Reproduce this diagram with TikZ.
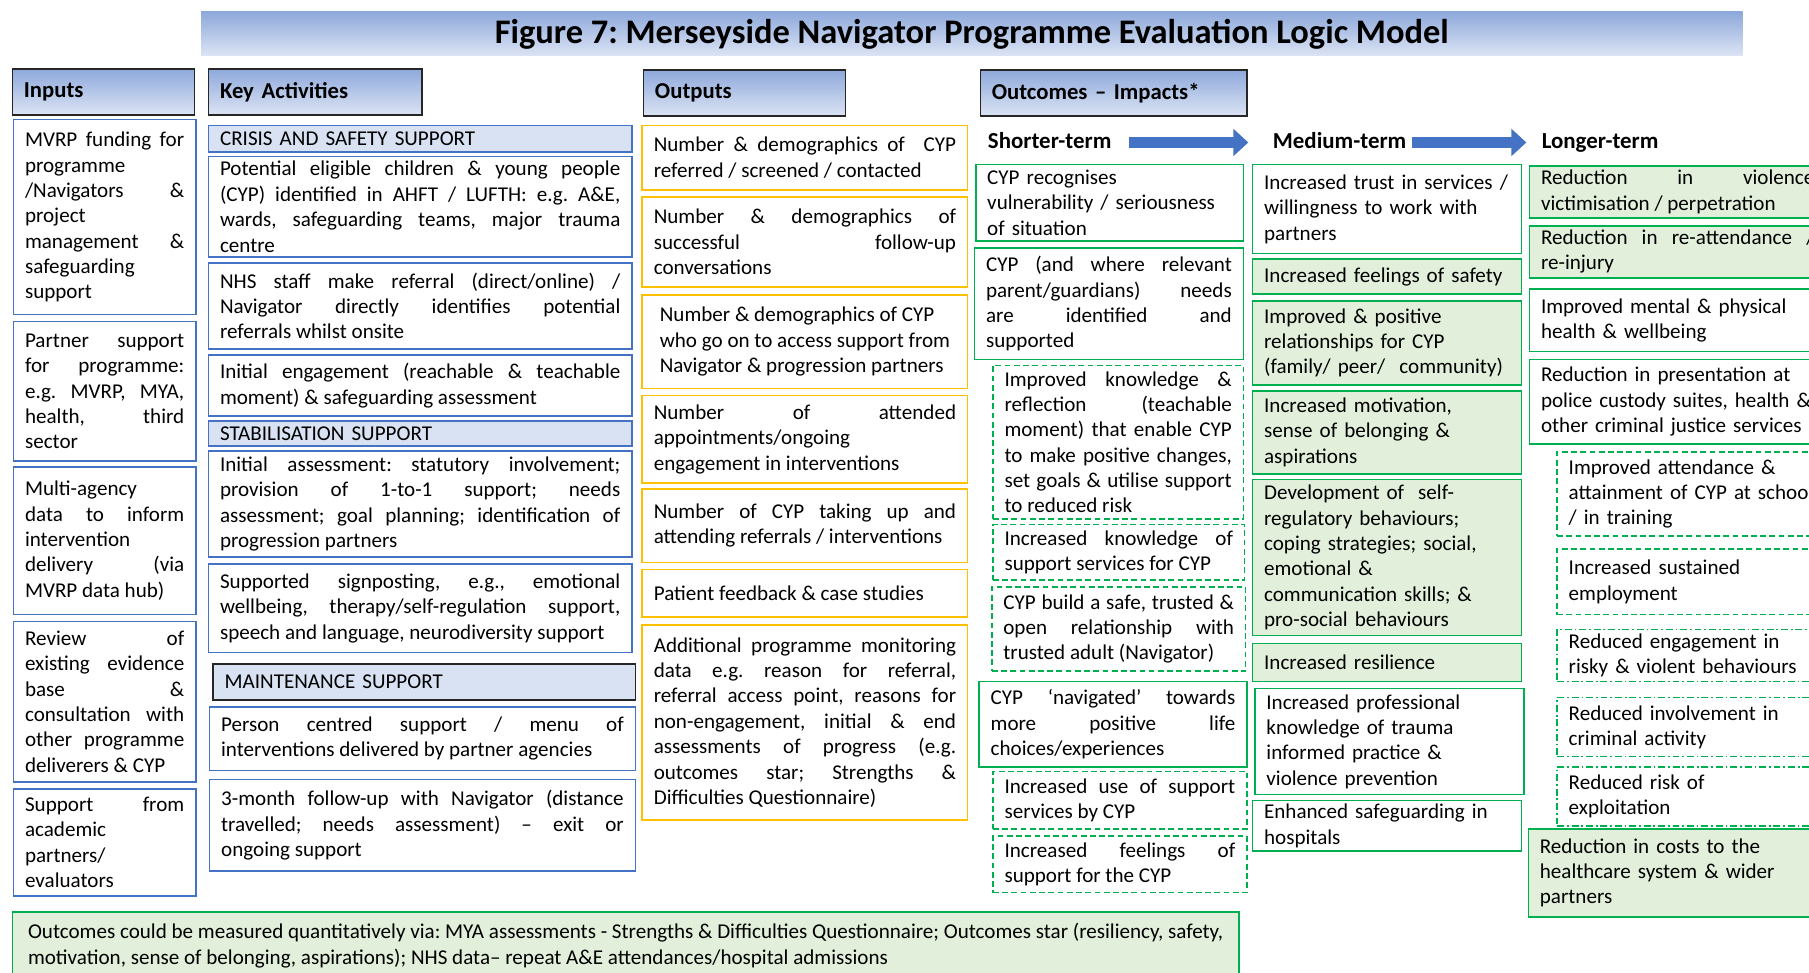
\documentclass[tikz,border=0pt]{standalone}
\usepackage{fontspec}
\setmainfont{Carlito}
\usetikzlibrary{arrows.meta}

\definecolor{navyline}{HTML}{4472C4}
\definecolor{sectionfill}{HTML}{D9E2F3}
\definecolor{amberline}{HTML}{FFC000}
\definecolor{greenline}{HTML}{00B050}
\definecolor{greenfill}{HTML}{E2EFDA}
\definecolor{headtop}{HTML}{8EA9DB}
\definecolor{headbot}{HTML}{DCE4F4}
\definecolor{headline}{HTML}{262626}
\definecolor{arrowblue}{HTML}{4472C4}

\frenchspacing
\hyphenpenalty=10000
\tolerance=10000
\hbadness=10000

\begin{document}
\begin{tikzpicture}[
    x=0.02cm, y=-0.02cm, % One unit per pixel, y going down
    % Define box size: width and height in pixels
    box size/.style 2 args={
        minimum width=#1*0.02cm, % Box width
        minimum height=#2*0.02cm, % Box height
        text width=#1*0.02cm-0.4cm % Room left for the text
      },
    % Define base box style
    base style/.style={
        rectangle, % Rectangle shape
        anchor=north west, % Placed by its top left corner
        inner xsep=0.2cm, % Side padding
        inner ysep=1pt, % Top and bottom padding
        line width=0.8pt, % Border width
        font=\fontsize{10.4}{12.5}\selectfont, % Body text
        align=justify % Justified text
      },
    % Define column header style
    header style/.style={base style, draw=headline, top color=headtop, bottom color=headbot,
        font=\bfseries\fontsize{11.2}{13}\selectfont, align=left},
    % Define box styles per column
    input style/.style={base style, draw=navyline},
    section style/.style={base style, draw=navyline, fill=sectionfill, align=left},
    output style/.style={base style, draw=amberline},
    solid style/.style={base style, draw=greenline},
    filled style/.style={base style, draw=greenline, fill=greenfill},
    dashed style/.style={base style, draw=greenline, dash pattern=on 0.1cm off 0.06cm},
    dashdot style/.style={base style, draw=greenline, dash pattern=on 0.12cm off 0.05cm on 0.03cm off 0.05cm},
    % Define term label style
    term style/.style={anchor=west, inner sep=0pt, text height=1.6ex, text depth=0.45ex,
        font=\bfseries\fontsize{11.3}{13}\selectfont},
    % Define arrow style
    flow/.style={draw=arrowblue, line width=0.18cm, -{Triangle[length=0.26cm, width=0.46cm]}}
  ]

  \fill[white] (0,0) rectangle (1568,843);
  \useasboundingbox (0,0) rectangle (1568,843);

  % Title bar
  \node[anchor=north west, top color=headtop, bottom color=headbot, minimum width=1336*0.02cm,
    minimum height=38*0.02cm, inner sep=0pt, font=\bfseries\fontsize{17}{20}\selectfont]
    (title) at (174,10) {Figure 7: Merseyside Navigator Programme Evaluation Logic Model};

  % Column headers
  \node[header style, box size={158}{40}] (inputs) at (10,59) {Inputs};
  \node[header style, box size={185}{40}] (activities) at (180,59) {Key Activities};
  \node[header style, box size={175}{40}] (outputs) at (557,60) {Outputs};
  \node[header style, box size={231}{40}] (outcomes) at (849,60) {Outcomes -- Impacts*};

  % Inputs
  \node[input style, box size={158}{169}] (funding) at (11,103) {MVRP funding for\linebreak programme\linebreak /Navigators \&\linebreak project\linebreak management \&\linebreak safeguarding\linebreak support};
  \node[input style, box size={158}{121}] (partner) at (11,278) {Partner support\linebreak for programme:\linebreak e.g. MVRP, MYA,\linebreak health, third\linebreak sector};
  \node[input style, box size={158}{128}] (multiagency) at (11,404) {Multi-agency\linebreak data to inform\linebreak intervention\linebreak delivery (via\linebreak MVRP data hub)};
  \node[input style, box size={158}{139}] (review) at (11,538) {Review of\linebreak existing evidence\linebreak base \&\linebreak consultation with\linebreak other programme\linebreak deliverers \& CYP};
  \node[input style, box size={158}{93}] (academic) at (11,683) {Support from\linebreak academic\linebreak partners/\linebreak evaluators};

  % Key activities
  \node[section style, box size={367}{23}] (crisis) at (180,108) {CRISIS AND SAFETY SUPPORT};
  \node[input style, box size={367}{87}] (eligible) at (180,135) {Potential eligible children \& young people\linebreak (CYP) identified in AHFT / LUFTH: e.g. A\&E,\linebreak wards, safeguarding teams, major trauma\linebreak centre};
  \node[input style, box size={367}{75}] (referral) at (180,227) {NHS staff make referral (direct/online) /\linebreak Navigator directly identifies potential\linebreak referrals whilst onsite};
  \node[input style, box size={367}{53}] (engage) at (180,307) {Initial engagement (reachable \& teachable\linebreak moment) \& safeguarding assessment};
  \node[section style, box size={367}{22}] (stabilise) at (180,364) {STABILISATION SUPPORT};
  \node[input style, box size={367}{92}] (assess) at (180,390) {Initial assessment: statutory involvement;\linebreak provision of 1-to-1 support; needs\linebreak assessment; goal planning; identification of\linebreak progression partners};
  \node[input style, box size={367}{77}] (signpost) at (180,488) {Supported signposting, e.g., emotional\linebreak wellbeing, therapy/self-regulation support,\linebreak speech and language, neurodiversity support};
  \node[section style, draw=headline, box size={366}{31}] (maintain) at (184,575) {MAINTENANCE SUPPORT};
  \node[input style, box size={369}{55}] (centred) at (181,612) {Person centred support / menu of\linebreak interventions delivered by partner agencies};
  \node[input style, box size={369}{79}] (followup) at (181,675) {3-month follow-up with Navigator (distance\linebreak travelled; needs assessment) -- exit or\linebreak ongoing support};

  % Outputs
  \node[output style, box size={282}{56}] (referred) at (556,108) {Number \& demographics of~ CYP\linebreak referred / screened / contacted};
  \node[output style, box size={282}{78}] (successful) at (556,170) {Number \& demographics of\linebreak successful follow-up\linebreak conversations};
  \node[output style, align=left, minimum width=282*0.02cm, minimum height=81*0.02cm] (access) at (556,255) {Number \& demographics of CYP\\ who go on to access support from\\ Navigator \& progression partners};
  \node[output style, box size={282}{76}] (attended) at (556,342) {Number of attended\linebreak appointments/ongoing\linebreak engagement in interventions};
  \node[output style, box size={282}{64}] (takingup) at (556,423) {Number of CYP taking up and\linebreak attending referrals / interventions};
  \node[output style, box size={282}{41}] (feedback) at (556,493) {Patient feedback \& case studies};
  \node[output style, box size={282}{169}] (monitoring) at (556,541) {Additional programme monitoring\linebreak data e.g. reason for referral,\linebreak referral access point, reasons for\linebreak non-engagement, initial \& end\linebreak assessments of progress (e.g.\linebreak outcomes star; Strengths \&\linebreak Difficulties Questionnaire)};

  % Outcome terms and arrows
  \node[term style] (shorter) at (856,123.5) {Shorter-term};
  \node[term style] (medium) at (1103,123.5) {Medium-term};
  \node[term style] (longer) at (1336,123.5) {Longer-term};
  \draw[flow, shorten <=0.3cm, shorten >=0.42cm] (shorter) -- (medium);
  \draw[flow, shorten <=0.1cm, shorten >=0.26cm] (medium) -- (longer);

  % Shorter-term outcomes
  \node[solid style, align=left, box size={232}{66}] (recognise) at (845,142) {CYP recognises\\ vulnerability / seriousness\\ of situation};
  \node[solid style, box size={233}{97}] (needs) at (844,214) {CYP (and where relevant\linebreak parent/guardians) needs\linebreak are identified and\linebreak supported};
  \node[dashed style, box size={217}{133}] (reflection) at (860,316) {Improved knowledge \&\linebreak reflection (teachable\linebreak moment) that enable CYP\linebreak to make positive changes,\linebreak set goals \& utilise support\linebreak to reduced risk};
  \node[dashed style, box size={218}{48}] (knowservices) at (860,454) {Increased knowledge of\linebreak support services for CYP};
  \node[dashed style, box size={220}{73}] (trusted) at (859,508) {CYP build a safe, trusted \&\linebreak open relationship with\linebreak trusted adult (Navigator)};
  \node[solid style, box size={232}{74}] (navigated) at (848,590) {CYP `navigated' towards\linebreak more positive life\linebreak choices/experiences};
  \node[dashed style, box size={220}{50}] (useservices) at (860,668) {Increased use of support\linebreak services by CYP};
  \node[dashed style, box size={220}{49}] (feelsupport) at (860,724) {Increased feelings of\linebreak support for the CYP};

  % Medium-term outcomes
  \node[solid style, align=left, box size={233}{77}] (trust) at (1085,142) {Increased trust in services /\\ willingness to work with\\ partners};
  \node[filled style, align=left, box size={233}{30}] (safety) at (1085,224) {Increased feelings of safety};
  \node[filled style, align=left, box size={233}{73}] (relations) at (1085,260) {Improved \& positive\\ relationships for CYP\\ (family/ peer/~ community)};
  \node[filled style, align=left, box size={233}{72}] (motivation) at (1085,338) {Increased motivation,\\ sense of belonging \&\\ aspirations};
  \node[filled style, align=left, box size={233}{135}] (selfreg) at (1085,415) {Development of~ self-\\ regulatory behaviours;\\ coping strategies; social,\\ emotional \&\\ communication skills; \&\\ pro-social behaviours};
  \node[filled style, align=left, box size={233}{33}] (resilience) at (1085,557) {Increased resilience};
  \node[solid style, align=left, box size={233}{92}] (trauma) at (1087,596) {Increased professional\\ knowledge of trauma\\ informed practice \&\\ violence prevention};
  \node[solid style, align=left, box size={233}{44}] (hospital) at (1085,693) {Enhanced safeguarding in\\ hospitals};

  % Longer-term outcomes
  \node[filled style, box size={257}{45}] (violence) at (1325,143) {Reduction in violence\linebreak victimisation / perpetration};
  \node[filled style, box size={257}{45}] (reattend) at (1325,195) {Reduction in re-attendance /\linebreak re-injury};
  \node[solid style, align=left, box size={257}{54}] (mental) at (1325,250) {Improved mental \& physical\\ health \& wellbeing};
  \node[solid style, align=left, box size={257}{73}] (custody) at (1325,311) {Reduction in presentation at\\ police custody suites, health \&\\ other criminal justice services};
  \node[dashed style, align=left, box size={240}{73}] (school) at (1349,391) {Improved attendance \&\\ attainment of CYP at school\\ / in training};
  \node[dashed style, align=left, box size={240}{57}] (employ) at (1349,475) {Increased sustained\\ employment};
  \node[dashdot style, align=left, box size={240}{45}] (risky) at (1349,545) {Reduced engagement in\\ risky \& violent behaviours};
  \node[dashdot style, align=left, box size={240}{51}] (criminal) at (1349,604) {Reduced involvement in\\ criminal activity};
  \node[dashdot style, align=left, box size={240}{51}] (exploit) at (1349,664) {Reduced risk of\\ exploitation};
  \node[filled style, align=left, box size={258}{76}] (costs) at (1324,718) {Reduction in costs to the\\ healthcare system \& wider\\ partners};

  % Measurement note
  \node[filled style, align=left, minimum width=1063*0.02cm, minimum height=58*0.02cm] (measured) at (10,790) {Outcomes could be measured quantitatively via: MYA assessments - Strengths \& Difficulties Questionnaire; Outcomes star (resiliency, safety,\\ motivation, sense of belonging, aspirations); NHS data-- repeat A\&E attendances/hospital admissions};

\end{tikzpicture}
\end{document}
